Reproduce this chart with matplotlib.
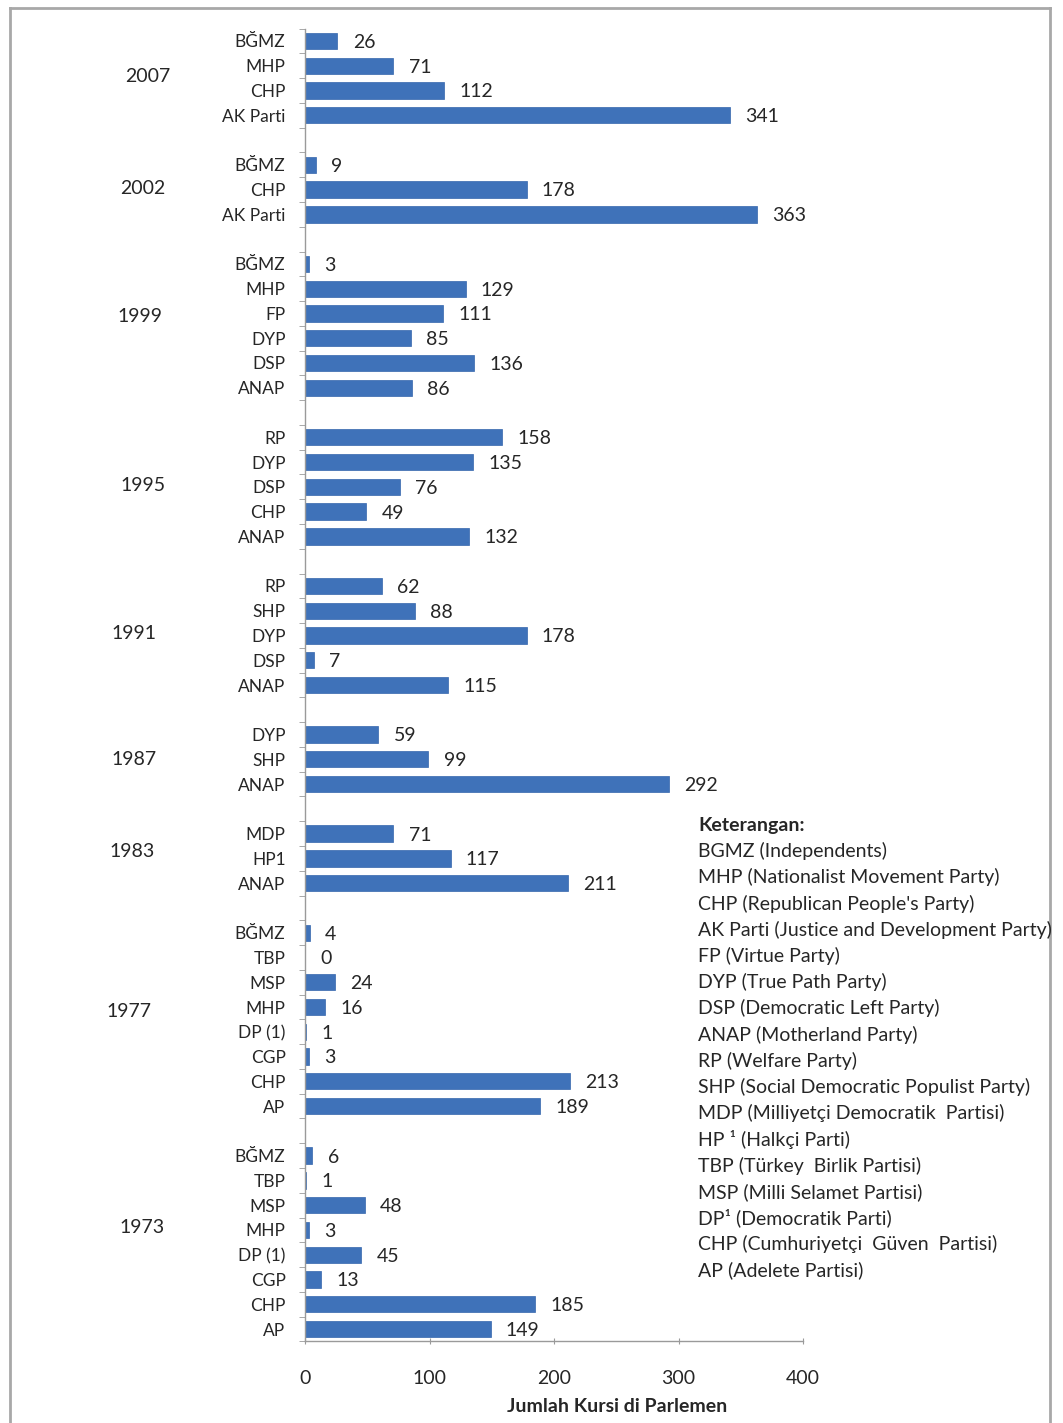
import matplotlib
matplotlib.use("Agg")
import matplotlib.pyplot as plt
from matplotlib.lines import Line2D
from matplotlib.ticker import FixedLocator

plt.rcParams['font.family'] = ['Lato', 'DejaVu Sans']

# ---- data ----
years = ['2007', '2002', '1999', '1995', '1991', '1987', '1983', '1977', '1973']
parties_2007 = ['BĞMZ', 'MHP', 'CHP', 'AK Parti']
seats_2007 = [26, 71, 112, 341]
parties_2002 = ['BĞMZ', 'CHP', 'AK Parti']
seats_2002 = [9, 178, 363]
parties_1999 = ['BĞMZ', 'MHP', 'FP', 'DYP', 'DSP', 'ANAP']
seats_1999 = [3, 129, 111, 85, 136, 86]
parties_1995 = ['RP', 'DYP', 'DSP', 'CHP', 'ANAP']
seats_1995 = [158, 135, 76, 49, 132]
parties_1991 = ['RP', 'SHP', 'DYP', 'DSP', 'ANAP']
seats_1991 = [62, 88, 178, 7, 115]
parties_1987 = ['DYP', 'SHP', 'ANAP']
seats_1987 = [59, 99, 292]
parties_1983 = ['MDP', 'HP1', 'ANAP']
seats_1983 = [71, 117, 211]
parties_1977 = ['BĞMZ', 'TBP', 'MSP', 'MHP', 'DP (1)', 'CGP', 'CHP', 'AP']
seats_1977 = [4, 0, 24, 16, 1, 3, 213, 189]
parties_1973 = ['BĞMZ', 'TBP', 'MSP', 'MHP', 'DP (1)', 'CGP', 'CHP', 'AP']
seats_1973 = [6, 1, 48, 3, 45, 13, 185, 149]

xticks = [0, 100, 200, 300, 400]
xlabel = 'Jumlah Kursi di Parlemen'
legend_title = 'Keterangan:'
legend_lines = [
    'BGMZ (Independents)',
    'MHP (Nationalist Movement Party)',
    "CHP (Republican People's Party)",
    'AK Parti (Justice and Development Party)',
    'FP (Virtue Party)',
    'DYP (True Path Party)',
    'DSP (Democratic Left Party)',
    'ANAP (Motherland Party)',
    'RP (Welfare Party)',
    'SHP (Social Democratic Populist Party)',
    'MDP (Milliyetçi Democratik  Partisi)',
    'HP ¹ (Halkçi Parti)',
    'TBP (Türkey  Birlik Partisi)',
    'MSP (Milli Selamet Partisi)',
    'DP¹ (Democratik Parti)',
    'CHP (Cumhuriyetçi  Güven  Partisi)',
    'AP (Adelete Partisi)',
]

groups = [
    (parties_2007, seats_2007), (parties_2002, seats_2002),
    (parties_1999, seats_1999), (parties_1995, seats_1995),
    (parties_1991, seats_1991), (parties_1987, seats_1987),
    (parties_1983, seats_1983), (parties_1977, seats_1977),
    (parties_1973, seats_1973),
]

# ---- layout of slots (one empty slot between groups) ----
positions, labels, values, centers = [], [], [], []
slot = 0
for names, vals in groups:
    start = slot
    for n, v in zip(names, vals):
        positions.append(slot)
        labels.append(n)
        values.append(v)
        slot += 1
    centers.append((start + slot - 1) / 2)
    slot += 1
nslots = slot - 1  # number of used slots (last one is a bar)

W, H = 1063, 1423
fig = plt.figure(figsize=(W / 100, H / 100), dpi=100)
fig.patch.set_facecolor('white')

left_px, right_px, top_px, bot_px = 305, 803, 28.6, 1341.4
ax = fig.add_axes([left_px / W, 1 - bot_px / H,
                   (right_px - left_px) / W, (bot_px - top_px) / H])

bar_color = '#3F72B9'
text_color = '#262626'
ax.barh(positions, values, height=0.66, color=bar_color, edgecolor='#3566ad', linewidth=0.5)

for p, v in zip(positions, values):
    ax.annotate(str(v), xy=(v, p), xytext=(11, -1), textcoords='offset points',
                va='center', ha='left', fontsize=14, color=text_color)

ax.set_xlim(0, 400)
ax.set_ylim(nslots - 0.5, -0.5)

ax.set_yticks(positions)
ax.set_yticklabels(labels, fontsize=12.5, color=text_color)
ax.tick_params(axis='y', which='major', length=0, pad=14)
ax.yaxis.set_minor_locator(FixedLocator([i - 0.5 for i in range(nslots + 1)]))
ax.tick_params(axis='y', which='minor', length=4, color='#9a9a9a', direction='out')

ax.set_xticks(xticks)
ax.set_xticklabels([str(t) for t in xticks], fontsize=14, color=text_color)
ax.tick_params(axis='x', which='major', length=5, direction='inout', color='#9a9a9a', pad=18)

for s in ['top', 'right']:
    ax.spines[s].set_visible(False)
for s in ['left', 'bottom']:
    ax.spines[s].set_color('#9a9a9a')
    ax.spines[s].set_linewidth(1.0)

# year labels (horizontal pixel position and small vertical nudge in slots)
yr_x = [148, 143, 140, 143, 134, 134, 132, 129, 142]
yr_dy = [-0.05, -0.03, -0.36, -0.07, -0.06, 0.0, -0.26, -0.3, -0.6]
for yr, c, xp, dy in zip(years, centers, yr_x, yr_dy):
    ax.text((xp - left_px) / (right_px - left_px), c + dy, yr,
            transform=ax.get_yaxis_transform(), ha='center', va='center',
            fontsize=14, color=text_color)

# x label
fig.text(617 / W, 1 - 1406 / H, xlabel, ha='center', va='center',
         fontsize=14, fontweight='bold', color=text_color)

# legend text block
lx = 698 / W
ly0 = 825
pitch = 26.2
fig.text(lx, 1 - ly0 / H, legend_title, ha='left', va='center',
         fontsize=14, fontweight='bold', color=text_color)
for i, line in enumerate(legend_lines):
    fig.text(lx, 1 - (ly0 + pitch * (i + 1)) / H, line, ha='left', va='center',
             fontsize=14, color=text_color)

# outer frame (left, top, right)
fc = '#a8a8a8'
fig.add_artist(Line2D([10 / W, 10 / W], [0, 1 - 8 / H], transform=fig.transFigure, color=fc, lw=2))
fig.add_artist(Line2D([10 / W, 1050 / W], [1 - 8 / H, 1 - 8 / H], transform=fig.transFigure, color=fc, lw=2))
fig.add_artist(Line2D([1050 / W, 1050 / W], [0, 1 - 8 / H], transform=fig.transFigure, color=fc, lw=2))

fig.savefig('out.png', dpi=100, facecolor='white')
